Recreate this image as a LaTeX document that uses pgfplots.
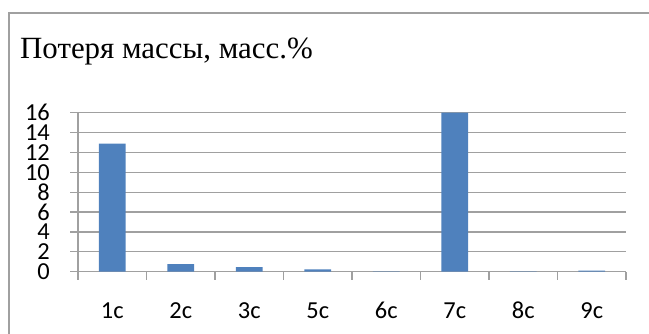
\documentclass[border=0pt]{standalone}
\usepackage{fontspec}
\setmainfont{Liberation Serif}
\newfontfamily\calibri{Carlito}
\usepackage{pgfplots}
\pgfplotsset{compat=1.18}
\definecolor{barblue}{RGB}{79,129,189}
\definecolor{linegray}{RGB}{160,160,160}
\begin{document}
\begin{tikzpicture}[x=1bp,y=1bp]
\useasboundingbox (0,0) rectangle (649,333);
% chart area frame
\draw[linegray, line width=1.3bp] (9,-2) -- (9,320) -- (651,320);
% chart title
\node[anchor=base west, inner sep=0, font=\fontsize{31}{36}\selectfont] at (20,275) {Потеря массы, масс.\%};
\begin{axis}[
  at={(78bp,61.3bp)}, anchor=south west,
  scale only axis, width=548bp, height=159bp,
  xmin=0.5, xmax=8.5, ymin=0, ymax=16,
  axis x line*=bottom, axis y line*=left,
  axis line style={linegray, line width=1.3bp, -},
  ybar, bar width=0.39,
  xtick={1,...,8},
  xticklabels={1c,2c,3c,5c,6c,7c,8c,9c},
  major x tick style={draw=none},
  minor xtick={0.5,1.5,...,8.5},
  tick align=outside,
  major tick length=8bp, minor tick length=8bp,
  ytick={0,2,...,16},
  ymajorgrids, grid style={linegray, line width=1.3bp},
  tick style={linegray, line width=1.3bp},
  ticklabel style={font=\calibri\fontsize{24.5}{24.5}\selectfont, text=black,
    inner sep=0pt, text height=16bp, text depth=0pt},
  xticklabel style={yshift=-23bp},
  yticklabel style={xshift=-20bp},
  /pgf/number format/assume math mode=true,
  clip=false,
]
\addplot[fill=barblue, draw=none] coordinates {
  (1,12.9) (2,0.77) (3,0.47) (4,0.24) (5,0.03) (6,16) (7,0.03) (8,0.1)
};
\end{axis}
\end{tikzpicture}
\end{document}
